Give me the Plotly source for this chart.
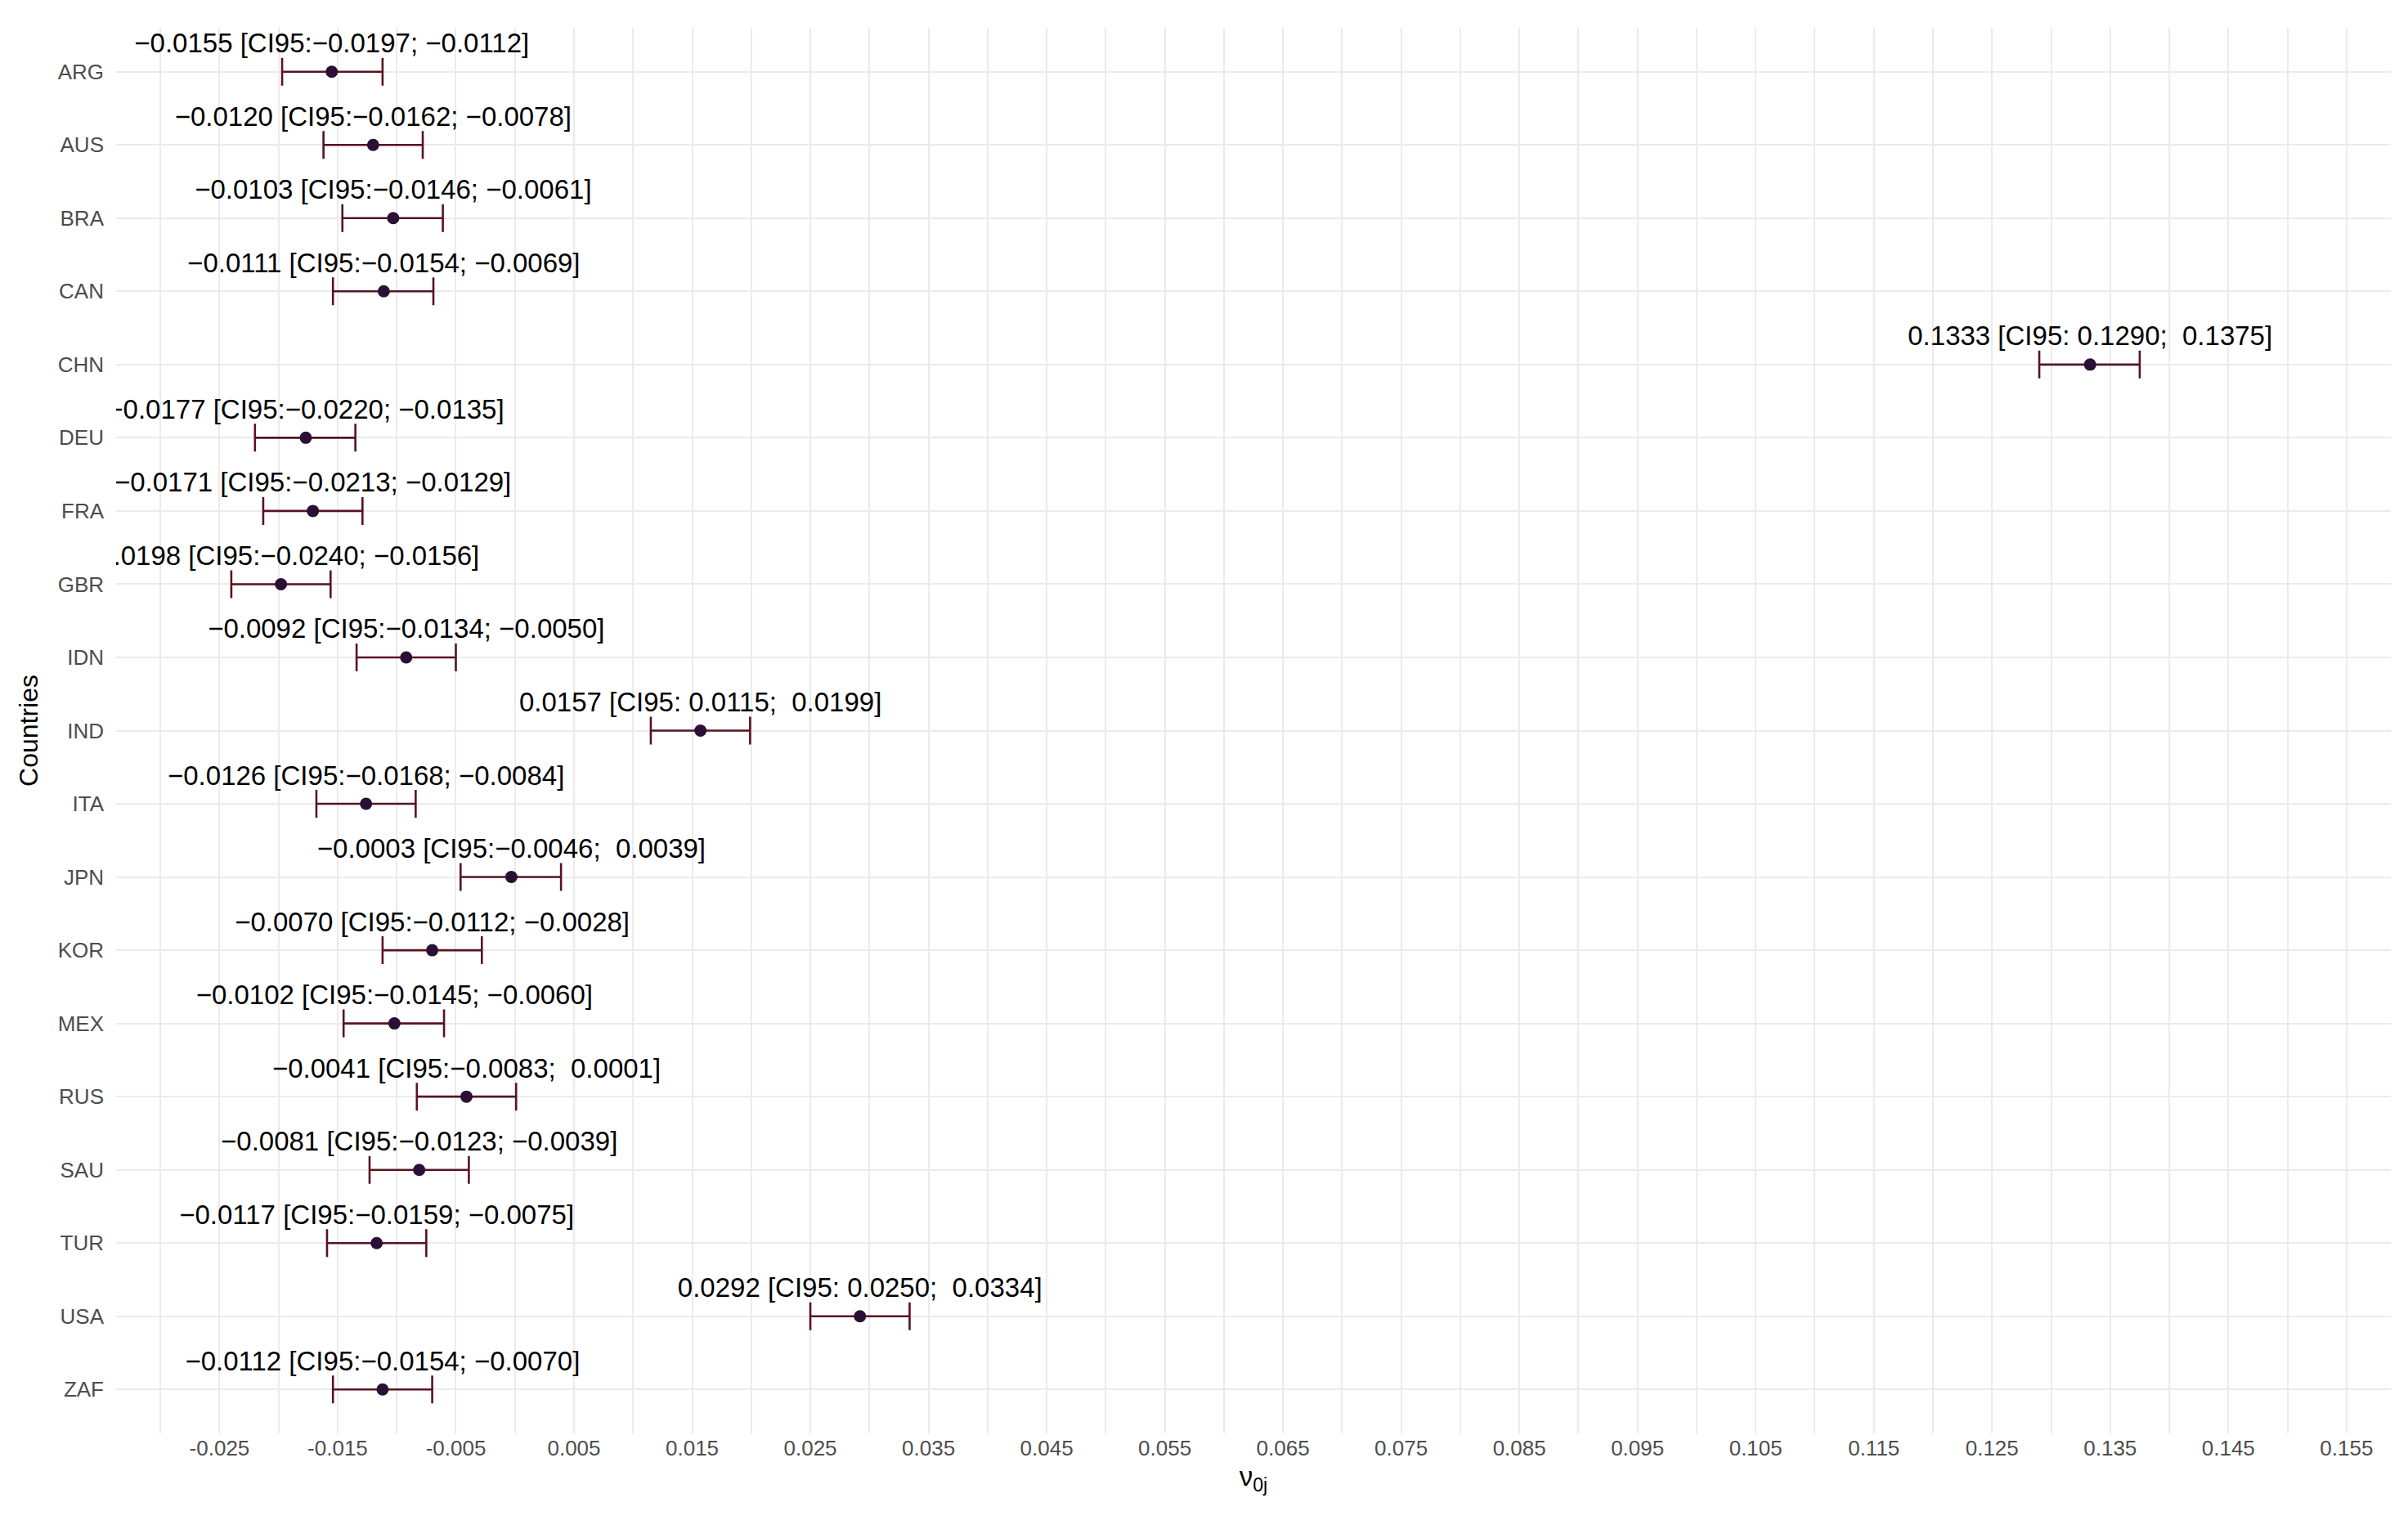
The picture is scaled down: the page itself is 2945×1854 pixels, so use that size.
import plotly.graph_objects as go

countries = ["ARG", "AUS", "BRA", "CAN", "CHN", "DEU", "FRA", "GBR", "IDN", "IND",
             "ITA", "JPN", "KOR", "MEX", "RUS", "SAU", "TUR", "USA", "ZAF"]
estimate = [-0.0155, -0.0120, -0.0103, -0.0111, 0.1333, -0.0177, -0.0171, -0.0198, -0.0092, 0.0157,
            -0.0126, -0.0003, -0.0070, -0.0102, -0.0041, -0.0081, -0.0117, 0.0292, -0.0112]
ci_low = [-0.0197, -0.0162, -0.0146, -0.0154, 0.1290, -0.0220, -0.0213, -0.0240, -0.0134, 0.0115,
          -0.0168, -0.0046, -0.0112, -0.0145, -0.0083, -0.0123, -0.0159, 0.0250, -0.0154]
ci_high = [-0.0112, -0.0078, -0.0061, -0.0069, 0.1375, -0.0135, -0.0129, -0.0156, -0.0050, 0.0199,
           -0.0084, 0.0039, -0.0028, -0.0060, 0.0001, -0.0039, -0.0075, 0.0334, -0.0070]
x_ticks = [-0.025, -0.015, -0.005, 0.005, 0.015, 0.025, 0.035, 0.045, 0.055, 0.065,
           0.075, 0.085, 0.095, 0.105, 0.115, 0.125, 0.135, 0.145, 0.155]
x_tick_labels = ["-0.025", "-0.015", "-0.005", "0.005", "0.015", "0.025", "0.035", "0.045",
                 "0.055", "0.065", "0.075", "0.085", "0.095", "0.105", "0.115", "0.125",
                 "0.135", "0.145", "0.155"]

NBSP = "\u00a0"


def fmt(v, pad=False):
    sign = "\u2212" if v < 0 else (NBSP if pad else "")
    return sign + f"{abs(v):.4f}"


labels = [f"{fmt(e)} [CI95:{fmt(lo, True)};{NBSP}{fmt(hi, True)}]"
          for e, lo, hi in zip(estimate, ci_low, ci_high)]
ypos = list(range(len(countries)))
text_offset = 0.355
text_y = [y - text_offset for y in ypos]

fig = go.Figure()

fig.add_vline(x=0, line=dict(color="#a8a8a8", width=1.5, dash="dot"), layer="below")

fig.add_trace(go.Scatter(
    x=estimate, y=ypos, mode="markers",
    marker=dict(size=15, color="#2b1036"),
    error_x=dict(type="data", symmetric=False,
                 array=[h - e for h, e in zip(ci_high, estimate)],
                 arrayminus=[e - l for e, l in zip(estimate, ci_low)],
                 color="#581420", thickness=2.6, width=17),
    showlegend=False, cliponaxis=True,
))

fig.add_trace(go.Scatter(
    x=estimate, y=text_y, mode="text", text=labels,
    textposition="middle center",
    textfont=dict(family="Liberation Sans, Arial, sans-serif", size=33, color="#000000"),
    showlegend=False, cliponaxis=True, hoverinfo="skip",
))

fig.update_layout(
    width=2945, height=1854,
    paper_bgcolor="white", plot_bgcolor="white",
    margin=dict(l=134, r=29, t=26, b=109, autoexpand=False),
    font=dict(family="Liberation Sans, Arial, sans-serif"),
)

fig.update_xaxes(
    automargin=False,
    range=[-0.03375, 0.15875],
    tickmode="array", tickvals=x_ticks, ticktext=x_tick_labels,
    tickfont=dict(size=26, color="#4d4d4d"),
    showgrid=True, gridcolor="#ebebeb", gridwidth=2,
    minor=dict(tick0=0, dtick=0.01, showgrid=True, gridcolor="#ebebeb", gridwidth=1.5),
    zeroline=False, showline=False, ticks="",
    title=dict(text="\u03bd<sub>0j</sub>", font=dict(size=33, color="#000000"), standoff=8),
)

fig.update_yaxes(
    automargin=False,
    range=[len(countries) - 0.4, -0.6],
    tickmode="array", tickvals=ypos, ticktext=countries,
    tickfont=dict(size=26, color="#4d4d4d"),
    showgrid=True, gridcolor="#ebebeb", gridwidth=2,
    zeroline=False, showline=False, ticks="", ticklabelstandoff=14,
    title=dict(text="Countries", font=dict(size=32, color="#000000"), standoff=14),
)

fig.write_html("out.html")
